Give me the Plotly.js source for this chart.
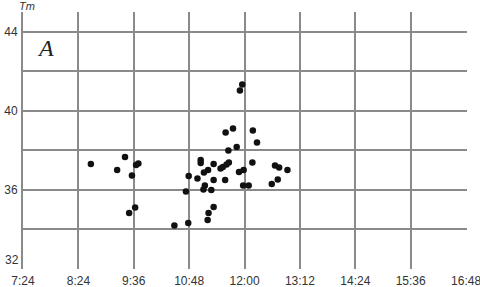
<!DOCTYPE html>
<html>
<head>
<meta charset="utf-8">
<script src="https://cdn.plot.ly/plotly-3.0.1.min.js"></script>
<style>html,body{margin:0;padding:0;background:#fff;}#chart{width:480px;height:287px;}</style>
</head>
<body>
<div id="chart"></div>
<script>
// time of day in decimal hours
const timeHours = [8.67, 9.41, 9.24, 9.65, 9.70, 9.56, 9.50, 9.63, 11.95, 11.90,
  11.59, 11.75, 12.18, 12.27, 11.65, 11.83, 11.05, 11.05, 11.33, 11.66,
  11.61, 11.53, 11.48, 12.17, 11.21, 11.12, 10.79, 10.98, 11.33, 11.58,
  11.88, 11.98, 11.14, 11.11, 11.28, 10.73, 11.97, 12.09, 12.66, 12.75,
  12.93, 12.72, 12.59, 11.33, 11.22, 11.20, 10.78, 10.48];
const tmValues = [37.31, 37.67, 37.01, 37.26, 37.34, 36.73, 34.83, 35.11, 41.33, 41.03,
  38.90, 39.11, 39.01, 38.40, 37.99, 38.17, 37.51, 37.36, 37.31, 37.39,
  37.29, 37.16, 37.08, 37.39, 37.01, 36.88, 36.70, 36.58, 36.50, 36.50,
  36.91, 37.01, 36.22, 36.02, 36.00, 35.92, 36.22, 36.22, 37.24, 37.13,
  37.01, 36.53, 36.30, 35.14, 34.83, 34.48, 34.33, 34.20];
const xTickVals = [7.2, 8.4, 9.6, 10.8, 12.0, 13.2, 14.4, 15.6, 16.8];
const xTickText = ['7:24', '8:24', '9:36', '10:48', '12:00', '13:12', '14:24', '15:36', '16:48'];
const yTickVals = [32, 34, 36, 38, 40, 42, 44];
const yTickText = ['32', '', '36', '', '40', '', '44'];

const trace = {
  x: timeHours, y: tmValues, type: 'scatter', mode: 'markers',
  marker: {color: '#111', size: 6.5}, hoverinfo: 'skip', cliponaxis: false
};
const fontMain = {family: 'Liberation Sans, Arial, sans-serif', size: 12, color: '#333'};
const layout = {
  width: 480, height: 287,
  margin: {l: 23, r: 13, t: 12, b: 18, pad: 0},
  paper_bgcolor: '#fff', plot_bgcolor: '#fff',
  showlegend: false,
  font: fontMain,
  xaxis: {range: [7.2, 16.82], tickvals: xTickVals, ticktext: xTickText,
    showgrid: true, gridcolor: '#8a8a8a', gridwidth: 2, zeroline: false,
    showline: false, ticks: '', ticklabelstandoff: 3, ticklabeloverflow: 'allow', fixedrange: true},
  yaxis: {range: [32, 45.0], tickvals: yTickVals,
    ticktext: yTickText.map((t, i) => (yTickVals[i] === 32 ? '' : t)),
    showgrid: true, gridcolor: '#8a8a8a', gridwidth: 2, zeroline: false,
    showline: true, linecolor: '#8a8a8a', linewidth: 2, ticks: '', ticklabelstandoff: 1,
    ticklabeloverflow: 'allow', fixedrange: true},
  annotations: [
    {text: '<i>Tm</i>', xref: 'paper', yref: 'paper', x: 0.009, y: 1.0, xanchor: 'center', yanchor: 'middle',
     yshift: 6, showarrow: false, font: {family: 'Liberation Sans, Arial, sans-serif', size: 11, color: '#333'}},
    {text: '<i>A</i>', xref: 'paper', yref: 'paper', x: 0.05, y: 0.86, xanchor: 'center', yanchor: 'middle',
     showarrow: false, font: {family: 'Liberation Serif, Times New Roman, serif', size: 24, color: '#222'}},
    {text: yTickText[0], xref: 'paper', yref: 'y', x: 0, y: yTickVals[0], xanchor: 'right', yanchor: 'middle',
     xshift: -2, yshift: 9, showarrow: false, font: fontMain}
  ]
};
Plotly.newPlot('chart', [trace], layout, {displayModeBar: false, staticPlot: true});
</script>
</body>
</html>
